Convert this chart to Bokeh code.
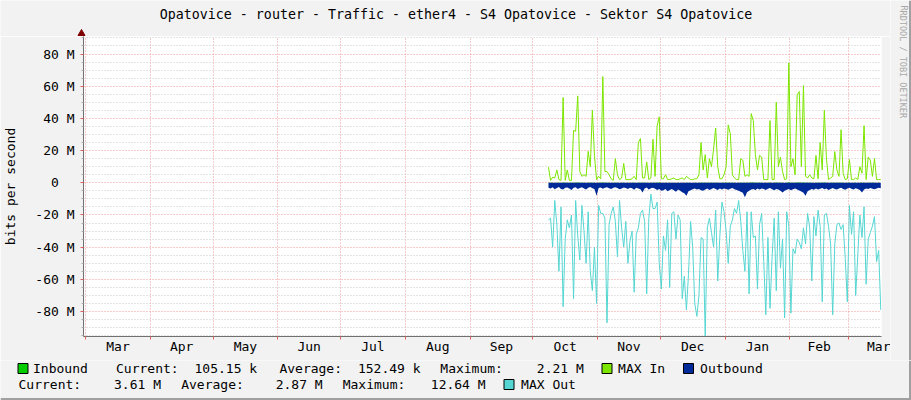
import pandas as pd
from bokeh.plotting import figure
from bokeh.models import (Range1d, FixedTicker, DatetimeTickFormatter,
                          ColumnDataSource, Span)
from bokeh.layouts import column, row
from bokeh.core.properties import value
from bokeh.embed import file_html
from bokeh.resources import INLINE

# ---------------- data ----------------
TITLE = "Opatovice - router - Traffic - ether4 - S4 Opatovice - Sektor S4 Opatovice"
DATA_START = "2018-10-08 12:00"          # first daily sample
X_START, X_END = "2018-02-28 00:00", "2019-03-16 20:24"
Y_MIN, Y_MAX = -95.5, 90.9                # millions of bits per second

MAX_IN = [
    9.7, 1.5, 3.5, 3, 8, 2, 1.5, 53, 1.5, 8,
    1.5, 1.5, 32.5, 32, 54, 7, 4, 5, 4, 19.5,
    10, 45, 17, 2, 4, 2.5, 66, 7, 7, 5,
    2.5, 1.5, 15, 5, 2, 3, 12, 2, 2, 2,
    2.5, 4, 2, 25, 27.5, 3, 3, 13, 2, 3,
    27, 4, 35.5, 41, 2.5, 2.5, 5, 2, 2, 2.5,
    3, 2, 2, 2.5, 3, 2, 4, 3, 2, 2,
    2.5, 2.5, 5, 25, 8, 17.5, 3, 15, 10, 21,
    34, 10, 2.5, 2.5, 5, 10, 36, 30.5, 5, 3,
    2, 2, 15, 14, 4, 5, 4, 43, 38.6, 17.5,
    8, 17, 16, 2, 2, 2, 38.6, 2, 2, 50,
    10, 16, 7, 2, 2.5, 74.5, 10, 15, 5, 54.7,
    56.7, 10, 60.4, 4, 3, 5, 3, 2.5, 17, 2.5,
    25, 8, 45, 15, 2, 3, 4, 19.4, 8, 4,
    33, 6, 2, 2.5, 14.5, 2, 2, 3, 2, 10,
    6, 35.5, 2, 16, 14, 4, 15, 2, 2, 2,
]

MAX_OUT = [
    -23, -22, -40, -11, -26, -55, -15, -77, -35, -23,
    -28, -20, -72, -11, -33, -48, -14, -30, -50, -18,
    -55, -67, -40, -75, -14, -19, -19, -22, -87, -26,
    -19, -15, -24, -46, -11, -28, -40, -24, -50, -36,
    -30, -68, -32, -28, -19, -17, -24, -69, -22, -7,
    -16, -16, -12, -50, -66, -33, -42, -23, -65, -19,
    -18, -35, -20, -23, -72, -58, -79, -57, -24, -40,
    -75, -83, -70, -34, -35, -96, -28, -22, -31, -40,
    -17, -61, -33, -12, -18, -30, -50, -27, -23, -16,
    -19, -11, -24, -42, -55, -18, -69, -18, -34, -33,
    -66, -26, -19, -49, -82, -34, -78, -46, -22, -67,
    -18, -53, -35, -84, -18, -27, -81, -41, -44, -35,
    -37, -41, -28, -38, -19, -28, -61, -21, -33, -17,
    -27, -74, -20, -19, -27, -38, -82, -38, -26, -25,
    -29, -26, -47, -74, -14, -32, -18, -70, -45, -20,
    -34, -15, -63, -35, -31, -27, -21, -49, -42, -79,
]

OUTBOUND = [
    -3.0, -3.5, -2.8, -4.0, -3.2, -2.6, -3.8, -4.2, -3.0, -2.9,
    -3.6, -4.4, -3.1, -2.7, -3.9, -3.3, -2.8, -3.5, -4.1, -3.0,
    -2.6, -3.4, -3.9, -8.0, -3.2, -2.9, -3.7, -3.0, -2.8, -3.4,
    -3.9, -3.1, -2.7, -3.3, -4.0, -3.5, -2.9, -3.2, -3.8, -3.0,
    -3.4, -4.3, -3.1, -3.6, -4.0, -6.0, -3.5, -2.9, -4.2, -3.4,
    -3.0, -3.7, -4.5, -3.8, -5.0, -4.6, -3.9, -5.2, -4.4, -3.8,
    -4.7, -5.5, -4.2, -4.9, -5.8, -6.5, -8.0, -5.2, -4.6, -4.0,
    -3.5, -4.2, -3.8, -4.6, -5.0, -4.1, -3.6, -4.4, -3.9, -3.3,
    -3.8, -4.5, -3.6, -4.2, -3.5, -3.9, -4.3, -3.7, -3.2, -4.0,
    -4.4, -5.0, -5.6, -6.2, -9.0, -5.8, -4.9, -4.2, -3.8, -4.4,
    -3.6, -4.1, -3.5, -3.9, -4.5, -3.7, -3.2, -4.0, -4.6, -3.8,
    -4.2, -5.0, -6.0, -5.0, -4.3, -3.8, -4.6, -4.0, -3.5, -4.2,
    -4.8, -5.4, -6.2, -8.0, -5.2, -4.5, -3.9, -4.3, -3.6, -4.1,
    -3.7, -3.3, -4.0, -3.6, -4.4, -3.8, -3.2, -3.9, -4.2, -3.5,
    -3.1, -3.8, -4.3, -3.6, -3.0, -3.7, -4.1, -3.4, -3.8, -4.5,
    -6.0, -4.2, -3.6, -3.9, -3.3, -3.7, -4.0, -3.5, -3.1, -3.4,
]

INBOUND = [
    0.12, 0.20, 0.15, 0.10, 0.25, 0.18, 0.10, 0.30, 0.14, 0.20,
    0.11, 0.16, 0.22, 0.13, 0.35, 0.15, 0.12, 0.18, 0.10, 0.21,
    0.17, 0.26, 0.14, 0.10, 0.12, 0.15, 0.40, 0.16, 0.13, 0.11,
    0.10, 0.12, 0.18, 0.14, 0.10, 0.11, 0.16, 0.10, 0.12, 0.10,
    0.11, 0.13, 0.10, 0.22, 0.24, 0.12, 0.11, 0.15, 0.10, 0.12,
    0.20, 0.13, 0.25, 0.28, 0.11, 0.10, 0.14, 0.10, 0.11, 0.10,
    0.12, 0.10, 0.11, 0.10, 0.12, 0.10, 0.13, 0.11, 0.10, 0.10,
    0.11, 0.10, 0.13, 0.22, 0.14, 0.18, 0.11, 0.16, 0.14, 0.19,
    0.25, 0.14, 0.10, 0.11, 0.13, 0.15, 0.26, 0.23, 0.12, 0.11,
    0.10, 0.11, 0.16, 0.15, 0.12, 0.13, 0.12, 0.30, 0.27, 0.18,
    0.13, 0.17, 0.16, 0.10, 0.11, 0.10, 0.27, 0.10, 0.11, 0.33,
    0.14, 0.17, 0.12, 0.10, 0.11, 0.45, 0.14, 0.16, 0.12, 0.36,
    0.37, 0.14, 0.38, 0.12, 0.11, 0.13, 0.11, 0.10, 0.17, 0.11,
    0.22, 0.14, 0.30, 0.16, 0.10, 0.11, 0.12, 0.19, 0.14, 0.12,
    0.25, 0.13, 0.10, 0.11, 0.16, 0.10, 0.11, 0.12, 0.10, 0.14,
    0.13, 0.26, 0.10, 0.16, 0.15, 0.12, 0.16, 0.10, 0.11, 0.10,
]

Y_TICKS = [-80, -60, -40, -20, 0, 20, 40, 60, 80]
Y_TICK_LABELS = ["-80 M", "-60 M", "-40 M", "-20 M", "0\u00a0\u00a0",
                 "20 M", "40 M", "60 M", "80 M"]
Y_MINOR = [v for v in range(-95, 91, 5) if v % 20]

SERIES = ["Inbound", "MAX In", "Outbound", "MAX Out"]
COLORS = ["#00CC00", "#7CE600", "#002A97", "#55D6D2"]
STAT_NAMES = ["Current:", "Average:", "Maximum:"]
IN_STATS = ["105.15 k", "152.49 k", "2.21 M"]
OUT_STATS = ["3.61 M", "2.87 M", "12.64 M"]
AXIS_LABEL = "bits per second"
CREDIT = "RRDTOOL / TOBI OETIKER"

# ---------------- layout / style ----------------
FONT = "DejaVu Sans Mono"
BG = "#F2F2F2"
EDGE = "#A0A0A0"
W, H = 911, 400
TOP_H, LEG_H, MAIN_W = 36, 40, 890
MAIN_H = H - TOP_H - LEG_H
PLOT_L, PLOT_R = 81, 881

# legend rows (page pixel positions of each text piece / box)
LEG_ROW1_Y, LEG_ROW2_Y = 368, 384
LEG_ROW1_TEXT = [SERIES[0], STAT_NAMES[0], IN_STATS[0], STAT_NAMES[1], IN_STATS[1],
                 STAT_NAMES[2], IN_STATS[2], SERIES[1], SERIES[2]]
LEG_ROW1_X = [32.5, 115.5, 194.0, 278.9, 357.4, 439.8, 536.3, 617.6, 699.6]
LEG_ROW2_TEXT = [STAT_NAMES[0], OUT_STATS[0], STAT_NAMES[1], OUT_STATS[1],
                 STAT_NAMES[2], OUT_STATS[2], SERIES[3]]
LEG_ROW2_X = [18.0, 113.5, 180.7, 275.2, 342.2, 430.3, 520.6]
BOX_X = [17.5, 601.5, 683.0, 503.5]       # left edges, boxes 10x10
BOX_Y = [LEG_ROW1_Y, LEG_ROW1_Y, LEG_ROW1_Y, LEG_ROW2_Y]


def strip(width, height, xr, yr):
    f = figure(width=width, height=height, x_range=Range1d(*xr), y_range=Range1d(*yr),
               output_backend="svg", toolbar_location=None, title=None,
               x_axis_location=None, y_axis_location=None, min_border=0)
    f.background_fill_color = BG
    f.border_fill_color = BG
    f.outline_line_color = None
    f.xgrid.visible = False
    f.ygrid.visible = False
    try:
        f.frame_align = False
    except Exception:
        pass
    return f


# ---------------- main chart ----------------
dates = pd.date_range(DATA_START, periods=len(MAX_IN), freq="D")
src = ColumnDataSource(dict(x=dates, max_in=MAX_IN, max_out=MAX_OUT,
                            outb=OUTBOUND, inb=INBOUND))

p = figure(width=MAIN_W, height=MAIN_H, x_axis_type="datetime",
           x_range=Range1d(pd.Timestamp(X_START), pd.Timestamp(X_END)),
           y_range=Range1d(Y_MIN, Y_MAX),
           output_backend="svg", toolbar_location=None, title=None,
           min_border_left=PLOT_L, min_border_right=MAIN_W - PLOT_R,
           min_border_top=0, min_border_bottom=24)
p.background_fill_color = "#FFFFFF"
p.border_fill_color = BG
p.outline_line_color = None
try:
    p.frame_align = False
except Exception:
    pass

starts = pd.date_range("2018-03-01", "2019-04-01", freq="MS")
month_starts = [t.value / 1e6 for t in starts[:-1]]
mids = [(a.value + (b.value - a.value) / 2) / 1e6 for a, b in zip(starts[:-1], starts[1:])]

xa = p.xaxis[0]
xa.ticker = FixedTicker(ticks=mids, minor_ticks=month_starts)
fmt = "%b"
xa.formatter = DatetimeTickFormatter(microseconds=fmt, milliseconds=fmt, seconds=fmt,
                                     minsec=fmt, minutes=fmt, hourmin=fmt, hours=fmt,
                                     days=fmt, months=fmt, years=fmt)
xa.major_tick_line_color = None
xa.major_tick_out = 0
xa.major_tick_in = 0
xa.minor_tick_out = 3
xa.minor_tick_in = 0
xa.minor_tick_line_color = "#E06060"
xa.axis_line_color = "#707070"
xa.major_label_text_font = FONT
xa.major_label_text_font_size = "13px"
xa.major_label_text_color = "#000000"
xa.major_label_standoff = -1

ya = p.yaxis[0]
ya.ticker = FixedTicker(ticks=Y_TICKS, minor_ticks=Y_MINOR)
ya.major_label_overrides = dict(zip(Y_TICKS, Y_TICK_LABELS))
ya.major_tick_out = 3
ya.major_tick_in = 0
ya.major_tick_line_color = "#E06060"
ya.minor_tick_out = 2
ya.minor_tick_in = 0
ya.minor_tick_line_color = "#B0B0B0"
ya.axis_line_color = "#707070"
ya.major_label_text_font = FONT
ya.major_label_text_font_size = "13px"
ya.major_label_text_color = "#000000"
ya.major_label_standoff = 6
ya.axis_label = AXIS_LABEL
ya.axis_label_text_font = FONT
ya.axis_label_text_font_size = "13px"
ya.axis_label_text_font_style = "normal"
ya.axis_label_text_color = "#000000"
ya.axis_label_standoff = 14

p.xgrid.grid_line_color = None
p.xgrid.minor_grid_line_color = "#F08080"
p.xgrid.minor_grid_line_alpha = 0.8
p.xgrid.minor_grid_line_dash = "1 2"
p.ygrid.grid_line_color = "#F08080"
p.ygrid.grid_line_alpha = 0.8
p.ygrid.grid_line_dash = "1 2"
p.ygrid.minor_grid_line_color = "#C8C8C8"
p.ygrid.minor_grid_line_dash = "1 2"

p.varea(x="x", y1=0, y2="inb", source=src, fill_color=COLORS[0])
p.line(x="x", y="max_in", source=src, line_color=COLORS[1], line_width=1)
p.varea(x="x", y1=0, y2="outb", source=src, fill_color=COLORS[2])
p.line(x="x", y="max_out", source=src, line_color=COLORS[3], line_width=1)

# ---------------- title strip ----------------
t = strip(MAIN_W, TOP_H, (0, MAIN_W), (TOP_H, 0))
t.text(x=[W / 2], y=[14], text=[TITLE], text_font=value(FONT), text_font_size="13.3px",
       text_color="#000000", text_align="center", text_baseline="middle")
t.scatter(x=[PLOT_L], y=[TOP_H - 3], marker="triangle", size=7,
          fill_color="#7F0000", line_color="#7F0000")

# ---------------- credit strip ----------------
c = strip(W - MAIN_W, TOP_H + MAIN_H, (MAIN_W, W), (TOP_H + MAIN_H, 0))
c.text(x=[903], y=[5], text=[CREDIT], text_font=value(FONT), text_font_size="8.5px",
       text_color="#A8A8A8", text_align="left", text_baseline="middle", angle=-1.5708)
c.add_layout(Span(location=909.5, dimension="height", line_color=EDGE, line_width=2))

# ---------------- legend strip ----------------
lg = strip(W, LEG_H, (0, W), (H, H - LEG_H))
lg.text(x=LEG_ROW1_X, y=[LEG_ROW1_Y] * len(LEG_ROW1_X), text=LEG_ROW1_TEXT,
        text_font=value(FONT), text_font_size="13px", text_color="#000000",
        text_align="left", text_baseline="middle")
lg.text(x=LEG_ROW2_X, y=[LEG_ROW2_Y] * len(LEG_ROW2_X), text=LEG_ROW2_TEXT,
        text_font=value(FONT), text_font_size="13px", text_color="#000000",
        text_align="left", text_baseline="middle")
lg.quad(left=BOX_X, right=[b + 10 for b in BOX_X],
        top=[y - 5 for y in BOX_Y], bottom=[y + 5 for y in BOX_Y],
        fill_color=[COLORS[0], COLORS[1], COLORS[2], COLORS[3]],
        line_color="#000000", line_width=1)
lg.add_layout(Span(location=909.5, dimension="height", line_color=EDGE, line_width=2))
lg.add_layout(Span(location=398.5, dimension="width", line_color=EDGE, line_width=2))

root = column(row(column(t, p, spacing=0), c, spacing=0), lg, spacing=0)
open("out.html", "w").write(file_html(root, INLINE))
